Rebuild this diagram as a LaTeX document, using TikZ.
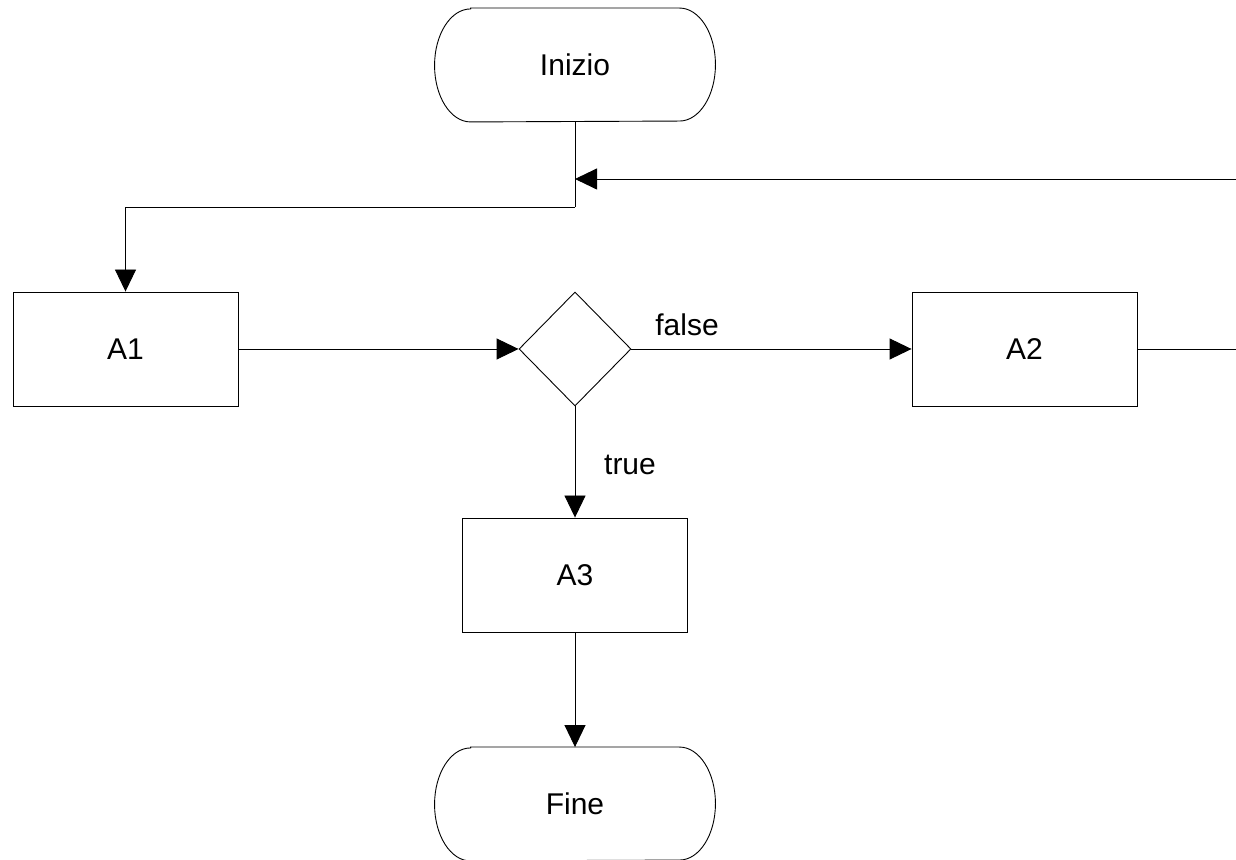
\documentclass[tikz,border=0pt]{standalone}
\usepackage{fontspec}
\setmainfont{Liberation Sans}
\usetikzlibrary{arrows.meta,shapes.geometric}
\begin{document}
\begin{tikzpicture}[x=1pt,y=1pt,line width=0.9pt,
  every node/.style={font=\fontsize{30}{35}\selectfont},
  box/.style={draw,rectangle,minimum width=225pt,minimum height=114pt,inner sep=0pt},
  term/.style={rectangle,minimum width=280pt,minimum height=113pt,inner sep=0pt},
  dec/.style={draw,diamond,minimum width=112pt,minimum height=114pt,inner sep=0pt},
  arr/.style={-{Triangle[length=22pt,width=21pt]}},
  lbl/.style={inner sep=0pt}]
\useasboundingbox (0,0) rectangle (1236,859);
% terminals
\node[term] (start) at (575,794) {Inizio};
\node[term] (end) at (575,55) {Fine};
\foreach \n in {start,end}{
  \draw ([xshift=36pt]\n.north west) -- ([xshift=-36pt]\n.north east)
    arc[start angle=90,end angle=-90,x radius=36pt,y radius=56.5pt]
    -- ([xshift=36pt]\n.south west)
    arc[start angle=270,end angle=90,x radius=36pt,y radius=56.5pt] -- cycle;
}
\node[box] (a1) at (125.5,510) {A1};
\node[dec] (d) at (575,510) {};
\node[box] (a2) at (1024.5,510) {A2};
\node[box] (a3) at (575,284) {A3};
\coordinate (j) at (575,652);
\coordinate (jin) at (575,680);
\coordinate (rin) at (1236,680);
\coordinate (rout) at (1236,510);
\draw (start.south) -- (j);
\draw[arr] (j) -| (a1.north);
\draw[arr] (rin) -- (jin);
\draw[arr] (a1.east) -- (d.west);
\draw[arr] (d.east) -- (a2.west);
\draw (a2.east) -- (rout);
\draw[arr] (d.south) -- (a3.north);
\draw[arr] (a3.south) -- (end.north);
\node[lbl] (f) at (687,534) {false};
\node[lbl] (t) at (630,394) {true};
\end{tikzpicture}
\end{document}
